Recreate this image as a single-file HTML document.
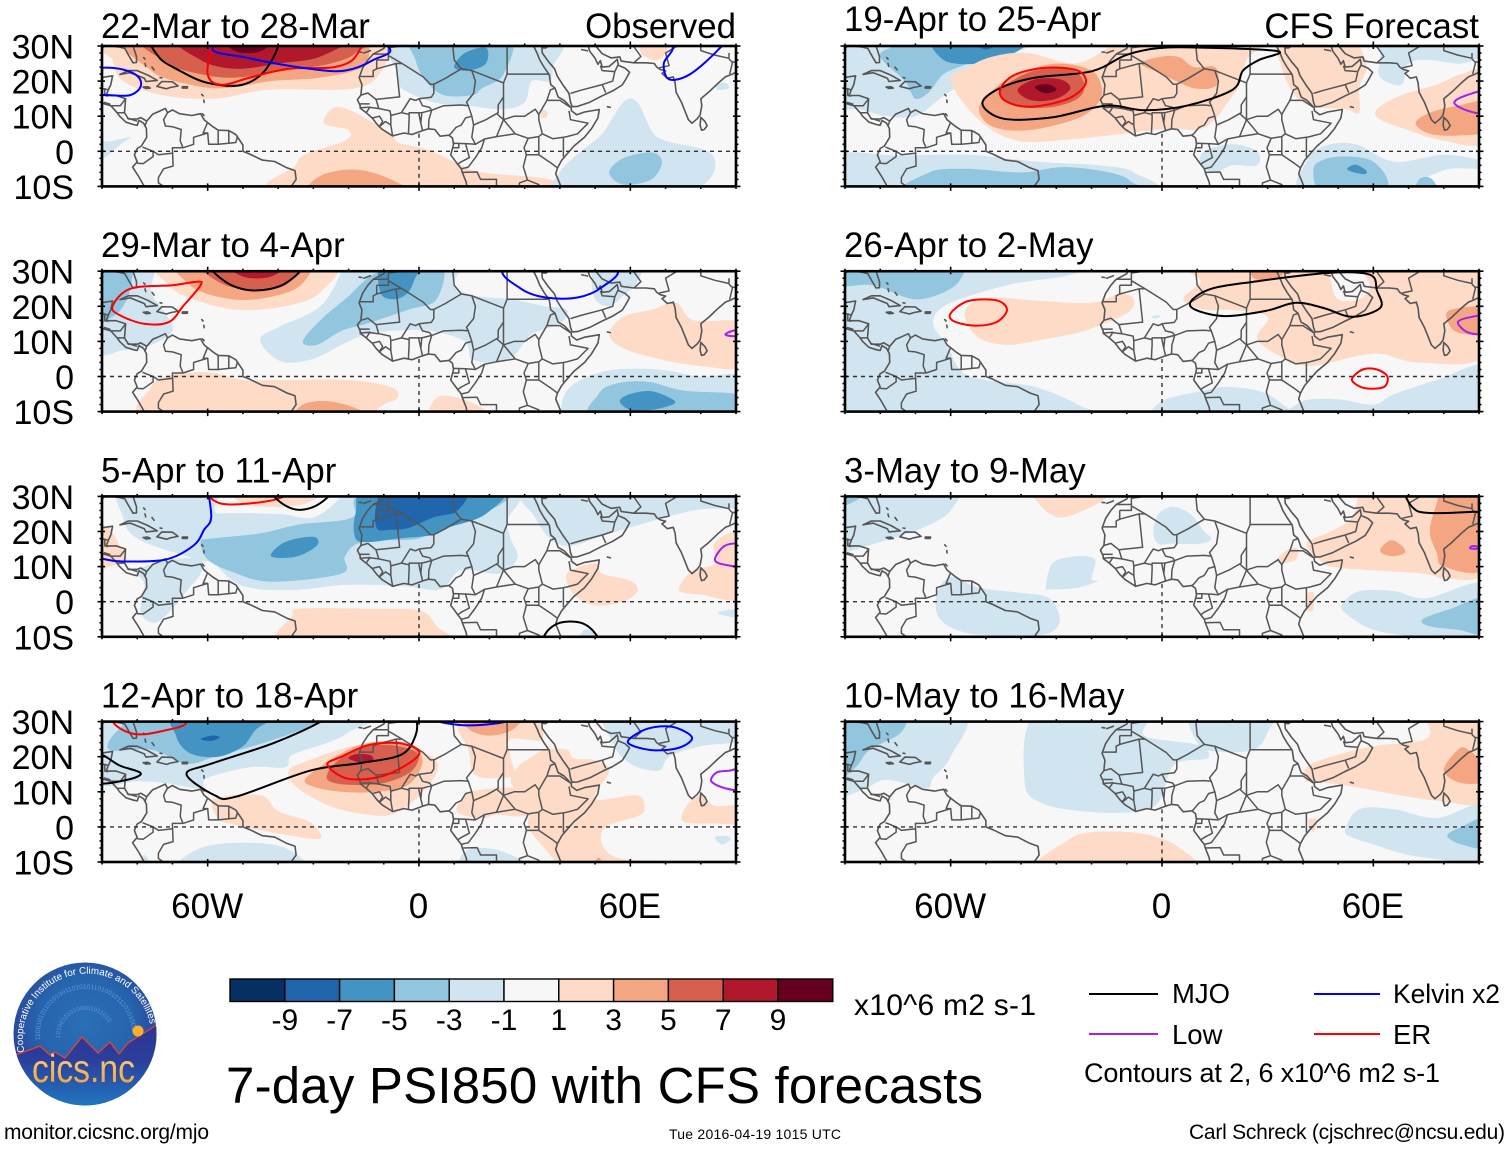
<!DOCTYPE html>
<html lang="en">
<head>
<meta charset="utf-8">
<title>7-day PSI850 with CFS forecasts</title>
<style>
html,body{margin:0;padding:0;background:#fff;}
svg{display:block;}
text{font-family:"Liberation Sans",Arial,sans-serif;fill:#000;}
</style>
</head>
<body>
<svg id="chart" xmlns="http://www.w3.org/2000/svg" width="1510" height="1149" viewBox="0 0 1510 1149">
  <rect x="0" y="0" width="1510" height="1149" fill="#fff"/>
  <g id="panels"></g>
  <g id="colorbar"></g>
  <text x="854" y="1015" font-size="30" textLength="182">x10^6 m2 s-1</text>
  <text x="226" y="1103" font-size="51" textLength="757">7-day PSI850 with CFS forecasts</text>

  <g>
    <line x1="1089" x2="1158" y1="994" y2="994" stroke="#000" stroke-width="2"/>
    <text x="1172" y="1003" font-size="27.5">MJO</text>
    <line x1="1314" x2="1380" y1="994" y2="994" stroke="#0000ff" stroke-width="2"/>
    <text x="1393" y="1003" font-size="26.5" textLength="107">Kelvin x2</text>
    <line x1="1089" x2="1158" y1="1034" y2="1034" stroke="#a020f0" stroke-width="2"/>
    <text x="1172" y="1044" font-size="27.5">Low</text>
    <line x1="1314" x2="1380" y1="1034" y2="1034" stroke="#ff0000" stroke-width="2"/>
    <text x="1393" y="1044" font-size="27.5">ER</text>
    <text x="1084" y="1082" font-size="27" textLength="356">Contours at 2, 6 x10^6 m2 s-1</text>
  </g>

  <text x="4" y="1139" font-size="21" textLength="205">monitor.cicsnc.org/mjo</text>
  <text x="669" y="1139" font-size="14" textLength="172">Tue 2016-04-19 1015 UTC</text>
  <text x="1189" y="1139" font-size="21" textLength="316">Carl Schreck (cjschrec@ncsu.edu)</text>

  <g>
    <defs>
      <radialGradient id="logoSky" cx="50%" cy="42%" r="60%">
        <stop offset="0" stop-color="#2a6fb5"/>
        <stop offset="0.55" stop-color="#2664ae"/>
        <stop offset="1" stop-color="#2b3a94"/>
      </radialGradient>
      <linearGradient id="logoLand" x1="0" y1="0" x2="0" y2="1">
        <stop offset="0" stop-color="#2e3192"/>
        <stop offset="0.45" stop-color="#2b3f9c"/>
        <stop offset="1" stop-color="#1f7cc4"/>
      </linearGradient>
      <linearGradient id="logoText" x1="0" y1="0" x2="0" y2="1">
        <stop offset="0" stop-color="#fbd98a"/>
        <stop offset="1" stop-color="#f39a2d"/>
      </linearGradient>
      <clipPath id="logoClip"><circle cx="85" cy="1034" r="71.5"/></clipPath>
      <path id="logoArc" d="M 24.5 1052 A 63 63 0 1 1 150 1024"/>
      <path id="logoBin1" d="M 40 1040 A 46 46 0 1 1 132 1030"/>
      <path id="logoBin2" d="M 60 1038 A 26 26 0 1 1 112 1034"/>
    </defs>
    <circle cx="85" cy="1034" r="71.5" fill="url(#logoSky)"/>
    <g clip-path="url(#logoClip)">
      <text font-size="6.5" style="fill:#5f97cf"><textPath href="#logoBin1">1100101011010100110101011010010111010100111001</textPath></text>
      <text font-size="6" style="fill:#5f97cf"><textPath href="#logoBin2">101001010100001011010</textPath></text>
      <path d="M 10 1060 L 18 1054 L 40 1046 L 50 1055 L 55 1052 L 65 1058 L 82 1037 L 98 1053 L 110 1042 L 119 1054 L 128 1043 L 155 1026 L 165 1020 L 165 1110 L 10 1110 Z" fill="url(#logoLand)" stroke="#e8432e" stroke-width="1.3"/>
      <circle cx="138" cy="1031" r="5.5" fill="#fdb02f"/>
    </g>
    <text font-size="9.8" style="fill:#fff"><textPath href="#logoArc">Cooperative Institute for Climate and Satellites</textPath></text>
    <text x="32" y="1082" font-size="39" textLength="103" lengthAdjust="spacingAndGlyphs" style="fill:url(#logoText)">cics.nc</text>
  </g>
</svg>

<script>
/* ---------- shared axis values ---------- */
const latTickValues = [30, 20, 10, 0, -10];
const latTickLabels = ['30N', '20N', '10N', '0', '10S'];
const lonTickValues = [-60, 0, 60];
const lonTickLabels = ['60W', '0', '60E'];
const colorbarLabels = ['-9', '-7', '-5', '-3', '-1', '1', '3', '5', '7', '9'];
const colorbarColors = ['#053061', '#2166ac', '#4393c3', '#92c5de', '#d1e5f0', '#f7f7f7', '#fddbc7', '#f4a582', '#d6604d', '#b2182b', '#67001f'];
const levelColors = {'-9':'#053061','-7':'#2166ac','-5':'#4393c3','-3':'#92c5de','-1':'#d1e5f0','0':'#f7f7f7','1':'#fddbc7','3':'#f4a582','5':'#d6604d','7':'#b2182b','9':'#67001f'};
const seriesColors = {mjo:'#000000', kelvin:'#0000ff', er:'#ff0000', low:'#a020f0'};

/* ---------- PSI850 anomaly regions: [lower level bound, [lon, lat] outline] ---------- */
const fillsMar22 = [
 [1,[[-88,33],[-87,26],[-84,20],[-73,16],[-58,15],[-43,17.5],[-25,17.5],[-18,18],[-13,20],[-9,26],[-8,33]]],
 [3,[[-80,33],[-76,23],[-65,19],[-55,18],[-42,20],[-28,21],[-16,24],[-14,30],[-14,33]]],
 [5,[[-76,33],[-71,25],[-62,22],[-52,21],[-38,23],[-25,25],[-18,28],[-17,33]]],
 [7,[[-67,33],[-62,26],[-52,23.5],[-40,25],[-28,27],[-22,33]]],
 [9,[[-56,33],[-52,28.5],[-45,28.5],[-41,33]]],
 [1,[[-27,8],[-24,12.5],[-18,11],[-8,5],[-6,2.5],[3,0.3],[11,-3.5],[18,-6],[37,-8],[39,-12],[-39,-12],[-35,-4],[-32,-0.7],[-21,3],[-20,6]]],
 [3,[[-30,-12],[-28,-7],[-18,-5.2],[-8,-8],[-4,-12]]],
 [1,[[64,33],[63,28],[68,26],[71,30],[72,33]]],
 [1,[[34.5,10],[35,12],[36.5,11],[36,9.5]]],
 [-1,[[-6,33],[-6,22],[-5,18],[4,14],[14,13],[24,12],[30,14],[32,20],[37,20],[38,24],[38,33]]],
 [-3,[[-1,33],[-1,26],[2,20],[7,16],[15,16],[18,18],[24,22],[25,33]]],
 [-5,[[10,24],[13,28],[19,29.5],[19,25],[14,23]]],
 [-1,[[40,-12],[40,-6],[46,0],[52,5],[58,14],[62,14],[66,6],[70,3],[82,0],[84,-5],[80,-10],[70,-12]]],
 [-3,[[54,-6],[58,-2],[66,-0.3],[69,-3],[66,-8],[58,-9.5]]],
 [-1,[[-92,-3.5],[-84,2.5],[-82,4],[-87,3],[-92,2]]],
 [-1,[[84,19],[87,19.5],[88,18],[85,17.5]]]
];
const contoursMar22 = [
 ['mjo',[[-75,33],[-74,27],[-68,23],[-60,19.5],[-50,19],[-43,24],[-41,33],[-58,38]]],
 ['er',[[-57,30],[-60,24],[-59,20],[-55,19],[-48,21],[-37,23.5],[-24,24],[-18,27],[-18.5,33],[-40,40]]],
 ['kelvin',[[-58,30],[-48,26.5],[-31,23.5],[-21,23],[-13,26],[-9,30],[-30,40]]],
 ['kelvin',[[-92,23.5],[-85,23.5],[-80,21.5],[-79,18.5],[-82,16],[-88,16],[-92,16.5],[-100,20]]],
 ['kelvin',[[72,33],[72,29],[69.5,25],[71,20.5],[77,22],[85,29],[87,33],[80,40]]]
];

const fillsMar29 = [
 [-1,[[-92,33],[-76,33],[-76,24],[-72,18],[-70,13],[-76,9],[-84,7.5],[-92,8]]],
 [-3,[[-92,33],[-82,33],[-82,25],[-84,20],[-87,17],[-92,16]]],
 [1,[[-72,33],[-71,26],[-64,22],[-52,19],[-38,20],[-28,24],[-26,33]]],
 [3,[[-67,33],[-65,26],[-56,22.5],[-46,22],[-35,25],[-30,31],[-30,33]]],
 [5,[[-61,33],[-57,27],[-47,24.5],[-38,26],[-33,32],[-33,34]]],
 [7,[[-55,33],[-50,28.5],[-42,28.5],[-37,33]]],
 [-1,[[-45,11],[-40,14],[-28,20],[-22,30],[-22,33],[9.5,33],[10,26],[16,23],[26,22],[36,20],[42,19],[40,15],[32,12],[27,6],[22,4],[15,5],[13,10],[3,13],[-8,13],[-15,12],[-22,9],[-30,5],[-38,4],[-43,7]]],
 [-3,[[-33,10],[-28,16],[-21,22],[-11,30],[6,32],[5,22],[-3,19],[-15,15],[-22,13],[-29,9]]],
 [-5,[[-10,33],[-11,24],[-7,22],[-3,24],[-0.5,29],[3,31],[5,33]]],
 [-1,[[50,22],[49,28],[50,33],[63,33],[62,27],[58,23],[54,20]]],
 [1,[[54,12],[58,17],[66,19],[73,21],[78,16],[92,15],[92,3],[80,3],[68,5],[58,8]]],
 [-1,[[40,-10.5],[42,-4],[48,0],[56,2],[68,2],[80,0],[92,0],[92,-12],[40,-12]]],
 [-3,[[51,-12],[51,-5],[56,-2],[65,-1.5],[75,-4],[92,-5.5],[92,-12]]],
 [-5,[[57,-7],[60,-5],[66,-4.2],[72,-6.5],[72,-8],[66,-9.5],[60,-9.5]]],
 [1,[[-75,-12],[-76,-3],[-72,0],[-66,1],[-58,1],[-50,-1],[-40,-1],[-20,-1],[-8,-3],[-6,-6],[-10,-8],[-12,-10],[-10,-12]]],
 [3,[[-34,-12],[-33,-8],[-26,-7],[-18,-9],[-14,-12]]],
 [1,[[4,-12],[5,-6],[11,-6],[18,-9],[21,-12]]]
];
const contoursMar29 = [
 ['mjo',[[-59,33],[-55,27],[-47,24.5],[-38,26.5],[-33,33],[-46,38]]],
 ['er',[[-87,20],[-82,25],[-70,26],[-63,27],[-62,26],[-67,20],[-71,15.5],[-78,15],[-85,17.5]]],
 ['kelvin',[[24,31],[29,25],[36,22.5],[45,22.5],[52,25.5],[56,31],[40,38]]],
 ['low',[[87,12],[89,13],[92,13.5],[92,12],[89,11.5]]]
];

const fillsApr5 = [
 [-1,[[-84,33],[-84,24],[-80,18],[-66,13],[-58,12],[-54,20],[-58,26],[-58,33]]],
 [-1,[[-62,22],[-58,25],[-40,25],[-30,24],[-22,30],[-22,33],[26,33],[25,23],[26,18],[28,12.5],[23,8],[12,9],[6,3.5],[-5,4.5],[-21,4.8],[-36,3.3],[-50,4.5],[-58,11],[-62,18]]],
 [-1,[[-80,9],[-78,5],[-79,-3],[-75,-6],[-70,-2],[-66,3],[-62,8],[-62,12],[-70,12]]],
 [-1,[[33,33],[33,24],[41,16],[56,20],[78,26],[92,27],[92,33]]],
 [-3,[[-62,17],[-59,18],[-45,19.5],[-34,22],[-19,24],[-15,31],[24,33],[22,27],[5,22],[0,18],[-16,17],[-21,13],[-22,8],[-42,5.7],[-53,8.5],[-60,12]]],
 [-5,[[-42,13],[-38,17],[-30,18.5],[-29,16],[-35,12.8]]],
 [-5,[[-18,18],[-18,25],[-13,33],[23,33],[19,25],[8,21],[4,19],[-6,18],[-14,17]]],
 [-7,[[-12,21],[-12,28],[-8,33],[13,33],[11,26],[4,24],[-3,21],[-8,20.5]]],
 [-9,[[3,30],[5,32],[6.5,30]]],
 [1,[[-92,21],[-88,21],[-85,16],[-83,12],[-88,10],[-92,9]]],
 [1,[[-53,33],[-50,28],[-42,27],[-32,28],[-27,33]]],
 [1,[[42,8],[50,11],[52,8],[60,6],[62,3],[58,0],[50,-1],[44,2]]],
 [1,[[74,3],[75,6],[78,9],[84,11],[84,17],[92,19],[92,1.5],[80,2]]],
 [1,[[-38,-12],[-36,-4],[-34,-2],[-15,-2],[0,-2.5],[5,-7],[7,-12]]],
 [-1,[[45,-12],[47,-8],[50,-9],[50,-12]]],
 [-1,[[85,-3],[92,-2],[92,-4.5],[87,-4]]]
];
const contoursApr5 = [
 ['kelvin',[[-60,33],[-59,24],[-61,20.5],[-64,16],[-72,12],[-85,11.5],[-92,12.5],[-100,12],[-100,40],[-60,40]]],
 ['er',[[-60,33],[-57,28.2],[-48,28],[-39,29.7],[-36,33],[-48,38]]],
 ['mjo',[[-42,32],[-36,26.5],[-29,27.5],[-24.5,33],[-34,38]]],
 ['mjo',[[36,-13],[36,-9],[40,-6],[46,-6],[50,-9],[51,-13]]],
 ['low',[[84,12],[87,16],[92,16],[92,10.5],[87,10.5]]]
];

const fillsApr12 = [
 [-1,[[-92,33],[-92,13],[-80,13],[-72,12.5],[-62,11],[-60,14],[-48,17],[-38,17],[-36,20.5],[-26,24],[-20,27],[-15,33]]],
 [-3,[[-88,22],[-76,22],[-66,18],[-58,20],[-44,24],[-30,29],[-24,33],[-75,33],[-85,28]]],
 [-5,[[-68,33],[-69,26],[-65,21],[-57,20],[-50,23],[-46,28],[-40,31],[-35,33]]],
 [-7,[[-62,25],[-59,26],[-56.5,25.5],[-59,24.5]]],
 [-1,[[55,33],[55,24],[60,18],[68,16],[71,20],[80,23],[92,25],[92,33]]],
 [1,[[-37,16],[-35,11.5],[-26,6.2],[-16.5,3.8],[-7,3.8],[2,11],[5,18.7],[-7,24],[-19,23],[-32,18.7]]],
 [1,[[12,33],[11,28],[14,22],[15,16],[18,14],[24,14],[27,15],[26,20],[26,25],[35,25],[31,33]]],
 [1,[[31,5],[28,10],[26,13],[28,17],[32,20],[36,22],[42,22],[44,19.5],[50,19],[54,16],[50,8],[62,9],[64,5],[62,3],[53,0],[52,-5],[57,-9],[71,-10],[73,-12],[40,-12],[38,-9],[33,-3],[31,0]]],
 [1,[[11,4],[12,8],[15,10],[22,11],[30,10.5],[31,4],[28,3],[22,3.5],[18,2.5]]],
 [1,[[-58,8],[-45,9],[-40,4.5],[-31,1.4],[-28,-3.3],[-37,-2.4],[-52,0.5],[-57,2.4]]],
 [1,[[75,1.5],[76,6],[80,9],[84,6],[92,6],[92,1],[84,1]]],
 [3,[[-32,14],[-30,11.5],[-22,10],[-12,10],[-3,12],[1,19],[-4,24],[-14,24],[-22,21]]],
 [5,[[-26,13.5],[-20,12],[-10,12.5],[-2,16],[-0.5,21],[-8,23.3],[-17,22.5],[-24,18]]],
 [7,[[-20,19.5],[-16,18.3],[-13,19],[-14,20.5],[-18,20.7]]],
 [3,[[13,33],[14,28],[20,26],[27,28],[29,33]]],
 [3,[[49.5,-12],[51,-8.7],[52.5,-12]]],
 [-1,[[-67,-12],[-62,-6],[-50,-4.5],[-38,-6],[-34,-12]]],
 [-1,[[12,-12],[14,-6.5],[22,-6.5],[30,-10],[30,-12]]],
 [-1,[[-80,-12],[-78,-8],[-76,-12]]],
 [-1,[[84,-3],[87,-2.5],[88.5,-3.5],[86,-5]]]
];
const contoursApr12 = [
 ['mjo',[[-92,21],[-85,17.5],[-79,15.3],[-83,13.4],[-92,12.5],[-100,17]]],
 ['mjo',[[-26,31],[-41,24],[-59,18],[-66,15],[-58,9],[-52,8.6],[-31,16],[-16.5,18.2],[-5,20.6],[-1,26],[-1,31],[-5,36],[-20,36]]],
 ['er',[[-87,30],[-81,26.5],[-73,27.3],[-66,30],[-75,36],[-87,36]]],
 ['er',[[-26,17.7],[-20,13.7],[-9.4,14.8],[0,20.6],[-4.7,23.7],[-14,23.4],[-22,20]]],
 ['kelvin',[[3.5,31],[12,29],[22,29.5],[26,31],[26,36],[3,36]]],
 ['kelvin',[[59.5,24.8],[65,28],[72,28.5],[77.5,25.5],[74,22.6],[67,21.8],[61,23]]],
 ['low',[[83,13],[84.5,15.5],[88,16],[92,16.3],[92,10.8],[87,11]]]
];

const fillsApr19 = [
 [-1,[[-92,33],[-37,33],[-46,26],[-56,20],[-63,15],[-70,10],[-78,10],[-86,12],[-92,14]]],
 [-3,[[-80,27],[-73,20],[-70,15],[-66,17],[-62,22],[-55,25],[-48,28],[-40,31],[-40,33],[-70,33],[-76,30]]],
 [-5,[[-64,33],[-62,26],[-52,25],[-42,28],[-38,33]]],
 [-7,[[-55,33],[-50,29],[-44,33]]],
 [-1,[[65,33],[62,26],[62,21],[68,19],[70,25],[76,26],[85,25],[92,28],[92,33]]],
 [1,[[-60,20],[-52,9],[-41,3],[-25,3.5],[-11,5],[3,6.5],[10,6],[15,9],[18,13],[22,19],[24,26],[28,33],[-10,33],[-16,29],[-25,25],[-38,28],[-48,27],[-55,24]]],
 [1,[[33,33],[34,24],[37,17],[42,13],[52,12],[56,11],[56,18],[58,25],[52,33]]],
 [3,[[-52,12],[-48,7],[-38,6],[-25,9],[-19,12.7],[-17,17.5],[-20,23],[-30,25],[-41,22],[-48,17.5]]],
 [5,[[-46,17],[-42,13],[-32,12.5],[-24,15],[-22,19],[-25,23],[-33,23.5],[-40,21.5]]],
 [7,[[-41,17.5],[-37,14.5],[-30,15],[-26,18],[-29,20.5],[-36,20.5]]],
 [9,[[-36,18],[-33,16.5],[-30,17.5],[-32,19],[-35,18.9]]],
 [3,[[-6,25],[0,27],[5,26.8],[9,24],[15,24],[16,20],[14,18],[9,18],[4,20],[0,22]]],
 [1,[[61,12],[68,16],[78,19],[85,22],[92,22],[92,3],[80,3],[70,6],[62,9]]],
 [3,[[72,8],[76,11],[84,13],[92,14],[92,6],[84,4.5],[76,5]]],
 [-1,[[-92,-1],[-75,-1.2],[-55,-1],[-35,-3],[-18,-4],[-8,-6],[-7,-12],[-92,-12]]],
 [-3,[[-70,-12],[-66,-6],[-56,-5],[-40,-6],[-28,-4.5],[-15,-6],[-9,-8.5],[-10,-12]]],
 [-1,[[11,-4],[12,0],[20,2],[27,0],[27,-4],[20,-4],[15,-6]]],
 [-1,[[40,-12],[41,-3],[46,1.5],[55,2],[66,-3],[80,-1],[92,-3],[92,-5],[82,-5],[74,-8],[68,-12]]],
 [-3,[[43,-5],[47,-2],[54,-1.5],[60,-3],[64,-8],[62,-12],[46,-12]]],
 [-5,[[52.5,-5],[55,-3.8],[58,-5.5],[57.5,-6.5],[54.5,-6]]],
 [-3,[[72,-12],[73,-8],[76,-7.5],[78,-10],[77,-12]]]
];
const contoursApr19 = [
 ['mjo',[[-51,13.6],[-45,9.3],[-31,9.7],[-16,13],[-5,11.7],[7,13],[20,17.5],[23,23],[27.5,26],[33,28.5],[13,29.5],[0,29.5],[-10,27.5],[-20,22.8],[-36,21],[-46,18]]],
 ['er',[[-46,17.4],[-42,21.7],[-33,23.8],[-24,23],[-21.7,19.3],[-26.6,15],[-37,12.7],[-44,14.1]]],
 ['low',[[83,14],[88,16.5],[93,17],[93,11],[87,11.5]]]
];

const fillsApr26 = [
 [-1,[[-92,33],[-20,33],[-26,29],[-44,26],[-61,20.5],[-65,15],[-61,9],[-57,1.5],[-50,-1],[-36,-3],[-24,-8],[-22,-12],[-92,-12]]],
 [-3,[[-92,33],[-92,26],[-82,26],[-70,22],[-60,25],[-56,30],[-56,33]]],
 [1,[[-56,17],[-52,11],[-44,9],[-34,10.5],[-22,13],[-10,18],[-8,22],[-12,23.5],[-20,21],[-34,21.5],[-48,22.5],[-54,21]]],
 [1,[[6,22],[11,27],[12,33],[92,33],[92,6.5],[73,4],[60,6.5],[42,3],[33,6],[27,11],[30,17],[20,19],[12,19]]],
 [0,[[48,27],[48,30],[55,31],[59,26],[56,22],[50,22]]],
 [3,[[26,33],[26,28],[33,28],[36,33]]],
 [3,[[81,16],[82,19],[92,19.5],[92,12.5],[84,12.5]]],
 [-1,[[40,-12],[40,-7],[50,-6.5],[60,-8],[66,-5],[78,-1],[92,3],[92,-12]]],
 [-1,[[0,-12],[0,-7],[12,-4],[18,-3],[27,-4],[33,-7],[35,-12]]],
 [-1,[[-3,17],[-1,17.5],[-0.5,17],[-2,16.5]]]
];
const contoursApr26 = [
 ['mjo',[[8.3,21.5],[14,25],[26,27],[47,29.5],[59,29],[61,24.5],[62,19.6],[54,17],[46,19.5],[38,21],[29.5,18.7],[18,17.2],[9.5,19]]],
 ['er',[[-60,18],[-55,21.5],[-47,21.7],[-44,19],[-47,15.5],[-53,14.5],[-59,15.7]]],
 ['er',[[54,-0.5],[57,2],[61,2],[64,0],[63,-3],[58,-3.4],[55,-2.2]]],
 ['low',[[84,15.5],[88,17],[92,17],[92,12.5],[87,12.5]]]
];

const fillsMay3 = [
 [-1,[[-92,33],[-60,33],[-60,26],[-68,21],[-80,17],[-90,14],[-92,14]]],
 [-3,[[-92,33],[-84,33],[-85,30],[-92,27]]],
 [1,[[-36,33],[-35,28],[-29,24],[-20,27],[-14,31],[-14,33]]],
 [-1,[[-2.5,20],[-1,25],[3,27],[8,25],[12,20],[14,18],[11,16.5],[3,16.5],[-1,16.5]]],
 [-1,[[-33,4],[-31,11],[-24,13],[-19,12],[-20,6.5],[-18,6],[-24,4],[-32,3.5]]],
 [-1,[[-63,-5],[-64,2],[-60,7],[-52,4],[-40,2.5],[-32,1],[-29,-5],[-32,-9],[-40,-9.5],[-55,-9]]],
 [1,[[41,16.5],[46,11],[52,9.5],[74,8],[81,6.5],[92,9],[92,33],[60,33],[54,24],[48,20]]],
 [3,[[80,33],[78,28],[76,20],[78,14],[80,10],[92,10],[92,33]]],
 [3,[[62,15],[65,17.5],[68,16],[69,14],[66,13],[63,13.5]]],
 [1,[[32.5,12],[36,15],[38.5,15],[38,12],[34,11]]],
 [1,[[41,2],[43,2.5],[43,-2],[41.5,-2.5]]],
 [-1,[[51,-1],[56,3],[66,3],[75,1],[92,5],[92,-12],[72,-10],[60,-8],[53,-4]]],
 [-3,[[74,-5],[82,-2],[92,1],[92,-9],[84,-8],[76,-7]]]
];
const contoursMay3 = [
 ['mjo',[[68,33],[71,27],[75.5,25.3],[88.5,25.6],[92,26],[92,36],[68,36]]],
 ['low',[[87.5,15.2],[88,15.8],[89.5,15.7],[89.4,15.1]]]
];

const fillsMay10 = [
 [-1,[[-57,33],[-60,20],[-65,14],[-67,11],[-78,13.4],[-84,11],[-90,8.6],[-92,8.6],[-92,33]]],
 [-3,[[-92,33],[-74,33],[-74,27],[-83,22],[-87,17],[-92,15]]],
 [-1,[[-35,33],[-39,13],[-34,6.7],[-21,4.3],[-8,4.3],[-1,7],[3.5,17.7],[13,19.6],[10,23.4],[-5,26],[-5,33]]],
 [-1,[[9,33],[10,24],[15,21.5],[26,22],[30,27],[31,33]]],
 [1,[[-34,-12],[-27,-4],[-20,-1.5],[-5,-2],[5,-6],[7,-12]]],
 [1,[[41,13],[41,17],[48,20],[60,23],[70,24],[76,26],[76,33],[92,33],[92,8.5],[78,7.5],[54,11.5],[43,13]]],
 [3,[[80,16],[84,22],[87,22],[92,17],[92,13],[85,12.5]]],
 [-1,[[52,-1],[56,5],[66,5],[78,2.5],[92,6],[92,-12],[84,-10],[70,-8],[60,-5],[54,-3]]],
 [-3,[[81,-2.5],[85,0],[92,2.5],[92,-5.7],[85,-5]]],
 [1,[[41.5,2],[44,2],[43,-1.5]]]
];
const contoursMay10 = [];

/* ---------- panel index ---------- */
const panelTitles = ['22-Mar to 28-Mar','29-Mar to 4-Apr','5-Apr to 11-Apr','12-Apr to 18-Apr','19-Apr to 25-Apr','26-Apr to 2-May','3-May to 9-May','10-May to 16-May'];
const panelFills = [fillsMar22, fillsMar29, fillsApr5, fillsApr12, fillsApr19, fillsApr26, fillsMay3, fillsMay10];
const panelContours = [contoursMar22, contoursMar29, contoursApr5, contoursApr12, contoursApr19, contoursApr26, contoursMay3, contoursMay10];

/* ---------- geography (lon, lat) ---------- */
const coastLines = [
 [[-81.5,31],[-80.2,27],[-80.2,25.3],[-81.2,25.2],[-82.7,27.8],[-83.5,29.3],[-85,29.7],[-89,30.2],[-90,29.3],[-92,29.6]],
 [[-92,18.6],[-90.5,19.5],[-90.3,21],[-87,21.5],[-87.5,19],[-88.2,17.5],[-88.8,15.9],[-86,15.9],[-83.3,15],[-83.6,11],[-82.5,9.2],[-80,9.2],[-79,9.6],[-77.3,8.6],[-75.6,10.6],[-74.2,11.2],[-72,12.2],[-71.4,11],[-70,11.8],[-68,10.7],[-64.5,10.2],[-62,10.7],[-61,9],[-58.5,7],[-57,6],[-54,5.9],[-52,4.8],[-50,1.8],[-50,0],[-48,-0.8],[-44.5,-2.5],[-41,-2.9],[-37.5,-4.7],[-35.2,-5.5],[-34.9,-8],[-37,-11],[-37.5,-12]],
 [[-92,14.6],[-90,13.7],[-87.5,13],[-85.7,11],[-85,10],[-83.2,8.3],[-81,7.6],[-80,7.4],[-79.5,8.8],[-78.2,8],[-77.4,6.5],[-77.3,4],[-78.8,1.5],[-80,0.8],[-80.8,-1],[-80,-3],[-81.3,-4.5],[-79.7,-7],[-78,-10],[-77,-12]],
 [[-84.9,21.9],[-82.5,23],[-80,23],[-77,21.7],[-74.3,20.2],[-77.5,19.9],[-78,20.8],[-80.5,21.8],[-82,22.4],[-84.9,21.9]],
 [[-74.4,18.5],[-73,19.9],[-70,19.8],[-68.4,18.6],[-70.5,18.2],[-71.7,17.8],[-74.4,18.5]],
 [[-78.3,18.3],[-77,18.4],[-76.3,18],[-77.5,17.9],[-78.3,18.3]],
 [[-67.2,18.4],[-65.7,18.4],[-65.8,18],[-67.2,18],[-67.2,18.4]],
 [[-78.2,26.7],[-77.8,26.3]],
 [[-77.8,25],[-77.6,24.2]],
 [[-75.8,24],[-75.2,23.2]],
 [[-73.5,21],[-73,20.9]],
 [[-61.7,16.2],[-61.3,15.8]],
 [[-61.1,14.6],[-61,13.9]],
 [[-61.5,10.7],[-61,10.2]],
 [[-17,28.3],[-16.2,28.2]],
 [[-15.7,28],[-13.8,28.7]],
 [[-9.8,31],[-9.6,30.2],[-10,29.3],[-13,27.7],[-14.5,26],[-16,23.7],[-17,21],[-16.2,19],[-16.5,16],[-17.5,14.7],[-16.7,13],[-16.7,12.3],[-15,11],[-13.3,9.5],[-12,7.8],[-10.5,6.3],[-7.5,4.4],[-4.3,5.2],[-2,4.8],[1,5.9],[2.7,6.4],[4.5,6.2],[6,4.3],[8.5,4.6],[9.5,3.8],[9.8,2],[9.5,0.8],[9,-1],[11,-3.7],[12,-5],[12.3,-6],[13.4,-8.8],[13.7,-10.8],[13.7,-12]],
 [[32.5,31],[32.6,29.9],[33.6,27.8],[34.3,26],[35.5,24],[37,21.8],[37.4,19],[38.6,18],[39.5,15.5],[41.2,14.5],[43.2,12.4],[43.3,11.5],[44.8,10.4],[47,11.2],[51.2,11.9],[50.8,9.5],[49,6.5],[47,4],[44,1.5],[42,-0.8],[40.5,-2.6],[39.3,-4.8],[38.8,-6.4],[39.5,-8],[40.5,-10.5],[40.6,-12]],
 [[34.8,31],[34.9,29.5],[35,28],[36.8,25.5],[38.5,23.5],[39.2,21.5],[40.8,19],[42.6,16.5],[43,14],[43.5,12.7],[45,12.8],[48.5,14],[52,15.8],[55,17.2],[57.7,18.9],[58.7,20.5],[59.8,22.5],[58.5,23.7],[56.6,24.5],[56.3,26.2],[55.3,25.3],[54,24.2],[52,24],[51.5,25.8],[50.8,24.8],[50,26.5],[48.5,28.5],[48,30],[50,30.2],[52,27.8],[54.5,26.6],[57,26.9],[57.4,25.7],[61,25.2],[64.5,25.2],[66.8,25],[67.5,24],[68.5,23.3],[70,22.9],[69,22.2],[70.5,20.8],[72.2,21.2],[72.7,19.5],[73,16.8],[74.5,14],[75.5,11.5],[76.5,9],[77.5,8],[79,9.3],[79.8,10.4],[80.3,13],[80,15],[82.2,16.8],[85,19.5],[87,21.2],[88.5,21.8],[90.5,22.8],[91.8,22.3],[92,21],[92.5,20.2]],
 [[80,9.7],[81.2,8.5],[81.8,7.3],[81,6.2],[80.2,6],[79.8,7.5],[80,9.7]],
 [[53.5,12.7],[54.3,12.5]]
];
const borderLines = [
 [[-13,27.7],[-8.7,27.7],[-8.7,29.5],[-5,30]],
 [[-12,26],[-8.7,26],[-8.7,27.3],[-4.8,25],[1.2,21.2],[3.2,19.1],[4.2,19.1],[4.2,16.5],[3.5,15.4],[0,15],[-1,14.5],[-2.5,15],[-5,11],[-8,10.2],[-8.2,11.5],[-11.4,12.2],[-12.2,14.8]],
 [[-12,26],[-12,23.5],[-13,23],[-13,21.3],[-16.9,21.3]],
 [[-12,23.5],[-6.5,25]],
 [[-6.5,25],[-5.5,15.5],[-12.2,14.8],[-14.5,16.6],[-16.5,16]],
 [[-4.8,25],[-6.5,25]],
 [[9.5,31],[9.8,28],[10,26],[12,23.5],[7.5,20.8],[4.2,19.1]],
 [[12,23.5],[15,23],[16,20],[15.5,16.5],[13.5,14],[14,13],[12,13.2],[7,13],[3.6,11.7],[3,12.5],[1,13],[0,15]],
 [[15,23],[24,19.5],[24,15.5],[22.5,13.2],[22.5,11],[19,9],[15.5,7.5],[15,10],[14,13]],
 [[25,31],[25,22],[37,22]],
 [[25,22],[24,19.5]],
 [[24,15.5],[24,9],[27.3,5],[31,3.7],[34,4.2],[35,5],[34,9],[34,10.5],[36.3,14.5],[37.3,17.5],[38.6,18]],
 [[36.3,14.5],[40,14.5],[43,12.5]],
 [[24,9],[27,10],[30,10],[33,12],[34,10.5]],
 [[42.6,11.5],[43,9],[48,8],[45,5],[42,4.2],[41,4],[38,3.6],[35,5]],
 [[34,4.2],[34,1],[34,-1],[37.7,-3.5],[39.3,-4.7]],
 [[41,4],[41,-1.6]],
 [[34,-1],[30.5,-1],[29.6,-4.4],[30.8,-8.2],[34,-9.5],[34.9,-11.5],[38,-11.3],[40.5,-10.5]],
 [[30.5,-1],[29.8,1],[31,3.7]],
 [[27.3,5],[22,4.2],[18.6,3.5],[17.8,1],[16,-1.8],[14,-4.5],[12,-5]],
 [[15.5,7.5],[15,4],[16,2],[18.6,3.5]],
 [[24,9],[22,10.8]],
 [[22,4.2],[24,9]],
 [[30.8,-8.2],[28.5,-9],[28.5,-11.5],[30,-12]],
 [[12.3,-6],[16.5,-5.9],[17.5,-8],[22,-8],[22,-11],[24,-11],[24,-12]],
 [[15,10],[13.2,9.5],[12,7.5],[10.5,6.8],[9,5],[8.5,4.6]],
 [[9.8,2.3],[13.2,2.2],[16,2]],
 [[9.5,1],[11.3,1],[11.3,2.2]],
 [[13.2,2.2],[14.3,-1.8],[12,-3],[11,-3.7]],
 [[3.6,11.7],[2.8,9],[2.7,6.4]],
 [[1,6],[0.5,8],[0.8,11],[3.6,11.7]],
 [[-0.1,11],[0.5,8]],
 [[-3,5],[-2.8,9],[-2.8,11],[0.8,11]],
 [[-2.8,10.5],[-5,11]],
 [[-7.5,4.4],[-8,7.5],[-8,10.2]],
 [[-11.4,6.9],[-9.5,8.5],[-8,7.5]],
 [[-13.3,9.5],[-11.2,10],[-10.3,8.5],[-11.4,6.9]],
 [[-15,11],[-14,12.5],[-11.4,12.2]],
 [[-16.7,12.4],[-13.7,12.6]],
 [[-16.8,13.5],[-14,13.5]],
 [[-80,8.6],[-82.9,9.5]],
 [[-85.7,11],[-83.7,11]],
 [[-87.5,13],[-84.8,13],[-83.3,15]],
 [[-92,14.6],[-90,17.8],[-89.2,17.8],[-88.2,17.5]],
 [[-89.2,17.8],[-89.2,15.9],[-88.2,15.7]],
 [[-89.5,14],[-87.6,13.4]],
 [[-77.3,8.6],[-77.8,7.2]],
 [[-71.4,11],[-72.5,9],[-72,7.2],[-70,7],[-67.5,6.2],[-67.8,3],[-67,1]],
 [[-67,1],[-70,1],[-69.8,-4.2],[-72.5,-5],[-74,-7.5],[-74,-9],[-72.5,-10],[-70.5,-11]],
 [[-69.8,-0.5],[-74,-1],[-75.5,0],[-78.5,1.2]],
 [[-75.5,0],[-75.5,-1.5],[-78.3,-3.5],[-80,-3.4]],
 [[-60,8.3],[-61.3,5.2],[-60,5.2],[-59.7,2],[-57,2],[-57,6]],
 [[-60,5.2],[-64,4],[-64,2],[-67,1]],
 [[-57,2],[-54,2.3],[-54,5.8]],
 [[-54,2.3],[-52,2.5],[-51.5,4.3]],
 [[36,29.4],[39,32]],
 [[36,29.4],[34.9,29.5]],
 [[46,29],[48,28.6]],
 [[43,16.5],[46,17.4],[52,19],[55,20],[55.6,22.7],[52,23],[51.5,24.4]],
 [[52,19],[53,16.7]],
 [[55.6,22.7],[56.5,24.6]],
 [[61,25.2],[63,27],[61,29.8],[60.8,31]],
 [[68.2,23.8],[71,24.4],[70,28],[73,29.8],[75,31]],
 [[80,30.5],[80,28.7],[84,27.4],[88,26.5],[88,28]],
 [[88,26.3],[89,25.3],[88.2,22]],
 [[89,25.5],[92,25],[92,23]],
 [[92,21],[93,24],[95,28]]
];

/* ---------- axis functions ---------- */
const lonScale = 3.5222;
const latScale = 3.51;
function xAxis(originX, lon) { return originX + (lon + 90) * lonScale; }
function yAxis(originY, lat) { return originY + (30 - lat) * latScale; }

const svgNS = 'http://www.w3.org/2000/svg';
function mk(parent, tag, props) {
  const el = document.createElementNS(svgNS, tag);
  for (const k in props) el.setAttribute(k, props[k]);
  parent.appendChild(el);
  return el;
}
function closedSpline(pts) {
  const n = pts.length;
  let d = 'M' + pts[0][0].toFixed(1) + ' ' + pts[0][1].toFixed(1);
  for (let i = 0; i < n; i++) {
    const p0 = pts[(i - 1 + n) % n], p1 = pts[i], p2 = pts[(i + 1) % n], p3 = pts[(i + 2) % n];
    const c1x = p1[0] + (p2[0] - p0[0]) / 6, c1y = p1[1] + (p2[1] - p0[1]) / 6;
    const c2x = p2[0] - (p3[0] - p1[0]) / 6, c2y = p2[1] - (p3[1] - p1[1]) / 6;
    d += 'C' + c1x.toFixed(1) + ' ' + c1y.toFixed(1) + ' ' + c2x.toFixed(1) + ' ' + c2y.toFixed(1) + ' ' + p2[0].toFixed(1) + ' ' + p2[1].toFixed(1);
  }
  return d + 'Z';
}

const panelsRoot = document.getElementById('panels');
const defs = mk(panelsRoot, 'defs', {});

function drawPanel(index) {
  const col = index < 4 ? 0 : 1;
  const row = index % 4;
  const ox = col === 0 ? 102 : 845;
  const oy = 46 + row * 225.2;
  const w = 180 * lonScale;
  const h = 40 * latScale;
  const X = function (lon) { return xAxis(ox, lon); };
  const Y = function (lat) { return yAxis(oy, lat); };
  const project = function (p) { return [X(p[0]), Y(p[1])]; };

  const g = mk(panelsRoot, 'g', {});
  
  

  const clip = mk(defs, 'clipPath', {id: 'clip' + index});
  mk(clip, 'rect', {x: ox, y: oy, width: w, height: h});

  const plot = mk(g, 'g', {'clip-path': 'url(#clip' + index + ')'});
  const bg = mk(plot, 'rect', {x: ox, y: oy, width: w, height: h, fill: '#f7f7f7'});
  
  

  panelFills[index].forEach(function (f) {
    const path = mk(plot, 'path', {d: closedSpline(f[1].map(project)), fill: levelColors[String(f[0])]});
    
    
  });

  coastLines.forEach(function (line) {
    const el = mk(plot, 'polyline', {points: line.map(project).map(function (p) { return p[0].toFixed(1) + ',' + p[1].toFixed(1); }).join(' '), fill: 'none', stroke: '#555', 'stroke-width': 1.6, 'stroke-linejoin': 'round', 'stroke-linecap': 'round'});
    
    
  });
  borderLines.forEach(function (line) {
    const el = mk(plot, 'polyline', {points: line.map(project).map(function (p) { return p[0].toFixed(1) + ',' + p[1].toFixed(1); }).join(' '), fill: 'none', stroke: '#555', 'stroke-width': 1.5, 'stroke-linejoin': 'round'});
    
    
  });

  const eq = mk(plot, 'line', {x1: ox, x2: ox + w, y1: Y(0), y2: Y(0), stroke: '#333', 'stroke-width': 1.4, 'stroke-dasharray': '4 4'});
  
  
  const pm = mk(plot, 'line', {x1: X(0), x2: X(0), y1: Y(5), y2: Y(-10), stroke: '#333', 'stroke-width': 1.4, 'stroke-dasharray': '4 4'});
  
  

  panelContours[index].forEach(function (c) {
    const path = mk(plot, 'path', {d: closedSpline(c[1].map(project)), fill: 'none', stroke: seriesColors[c[0]], 'stroke-width': 2});
    
    
  });

  const frame = mk(g, 'rect', {x: ox, y: oy, width: w, height: h, fill: 'none', stroke: '#000', 'stroke-width': 2.6});
  
  

  const ticks = mk(g, 'g', {stroke: '#000', 'stroke-width': 1.6});
  
  
  for (let lon = -90; lon <= 90; lon += 10) {
    const major = lonTickValues.indexOf(lon) >= 0;
    const len = major ? 4.5 : 2.5;
    mk(ticks, 'line', {x1: X(lon), x2: X(lon), y1: oy - len, y2: oy + (major ? 3 : 0)});
    mk(ticks, 'line', {x1: X(lon), x2: X(lon), y1: oy + h - (major ? 3 : 0), y2: oy + h + len});
  }
  for (let lat = -10; lat <= 30; lat += 2) {
    const major = lat % 10 === 0;
    const len = major ? 4.5 : 2.5;
    mk(ticks, 'line', {x1: ox - len, x2: ox + (major ? 3 : 0), y1: Y(lat), y2: Y(lat)});
    mk(ticks, 'line', {x1: ox + w - (major ? 3 : 0), x2: ox + w + len, y1: Y(lat), y2: Y(lat)});
  }

  if (col === 0) {
    latTickValues.forEach(function (v, i) {
      const t = mk(g, 'text', {x: 74, y: Y(v) + 12.5, 'font-size': 34, 'text-anchor': 'end'});
      t.textContent = latTickLabels[i];
      
      
    });
  }
  if (row === 3) {
    lonTickValues.forEach(function (v, i) {
      const t = mk(g, 'text', {x: X(v) - 0.5, y: 918, 'font-size': 35, 'text-anchor': 'middle'});
      t.textContent = lonTickLabels[i];
      
      
    });
  }

  let titleY = oy - 14;
  if (index === 0) titleY = 38;
  if (index === 4) titleY = 31;
  const title = mk(g, 'text', {x: ox - 1, y: titleY, 'font-size': 34.8});
  title.textContent = panelTitles[index];
  
  

  if (index === 0 || index === 4) {
    const tag = mk(g, 'text', {x: ox + w, y: 38, 'font-size': 34.8, 'text-anchor': 'end'});
    tag.textContent = index === 0 ? 'Observed' : 'CFS Forecast';
    
    
  }
}
for (let i = 0; i < panelTitles.length; i++) drawPanel(i);

/* ---------- colorbar ---------- */
const cb = document.getElementById('colorbar');
const cbLeft = 230, cbStep = 54.8, cbTop = 979, cbHeight = 22.5;
colorbarColors.forEach(function (c, i) {
  const box = mk(cb, 'rect', {x: cbLeft + i * cbStep, y: cbTop, width: cbStep, height: cbHeight, fill: c, stroke: '#000', 'stroke-width': 1.4});
  
  
});
colorbarLabels.forEach(function (label, i) {
  const t = mk(cb, 'text', {x: cbLeft + (i + 1) * cbStep, y: 1030, 'font-size': 30, 'text-anchor': 'middle'});
  t.textContent = label;
  
  
});
</script>
</body>
</html>
